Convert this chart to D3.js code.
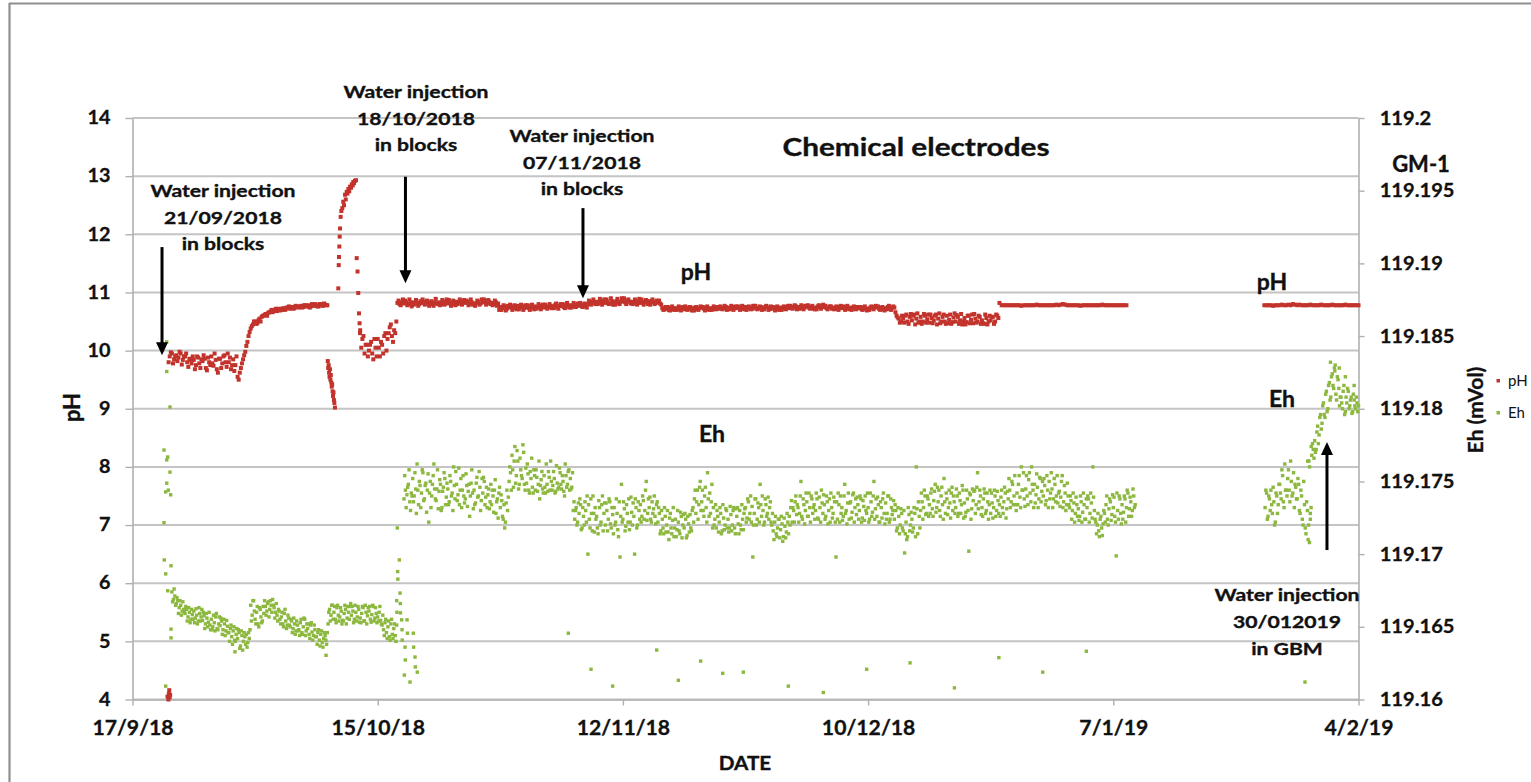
<!DOCTYPE html>
<html><head><meta charset="utf-8">
<script src="https://cdn.jsdelivr.net/npm/d3@7"></script>
<style>
html,body{margin:0;padding:0;background:#fff;}
svg{display:block;}
text{font-family:Lato,"Open Sans",sans-serif;}
</style></head><body>
<svg id="chart" width="1531" height="782"></svg>
<script>
// ---------------- DATA ----------------
const phTicks = [4,5,6,7,8,9,10,11,12,13,14];
const ehTicks = [119.16,119.165,119.17,119.175,119.18,119.185,119.19,119.195,119.2];
const dateTicks = ["2018-09-17","2018-10-15","2018-11-12","2018-12-10","2019-01-07","2019-02-04"];

// pH readings, one every 6 h (main) plus the readings taken 3 h later (mid)
const phStepHours = 6;
const phRun1Start = "2018-09-21T00:00";
const phRun1 = [
4.05,9.9,9.95,9.85, 9.92,9.88,9.95,9.84, 9.9,9.8,9.86,9.78, 9.84,9.75,9.88,9.7,
9.82,9.86,9.66,9.8, 9.9,9.74,9.84,9.62, 9.86,9.78,9.92,9.72, 9.8,9.68,9.85,9.75,
9.55,9.62,9.78,9.92, 10.08,10.25,10.38,10.45, 10.5,10.47,10.55,10.58, 10.6,10.63,10.65,10.67,
10.66,10.7,10.68,10.72, 10.7,10.73,10.71,10.74, 10.72,10.75,10.73,10.76, 10.74,10.77,10.75,10.78,
10.76,10.74,10.8,10.77, 10.78,10.76,10.8,10.77, 10.79,10.78];
const phRun1MidStart = "2018-09-21T03:00";
const phRun1Mid = [
9.8,9.97,9.78,9.9, 9.82,9.98,9.76,9.9, 9.95,9.72,9.84,9.9, 9.68,9.9,9.78,9.85,
9.92,9.7,9.88,9.75, 9.78,9.95,9.68,9.86, 9.7,9.9,9.8,9.95, 9.88,9.75,9.65,9.9,
9.5,9.7,9.85,9.98, 10.15,10.32,10.42,10.5, 10.46,10.52,10.5,10.6, 10.62,10.6,10.66,10.7,
10.68,10.72,10.7,10.69, 10.72,10.7,10.74,10.76, 10.74,10.72,10.77,10.75, 10.76,10.74,10.78,10.76,
10.78,10.76,10.79,10.8, 10.76,10.8,10.78,10.81, 10.78];
const phRun2Start = "2018-10-13T00:00";
const phRun2 = [
10.35,10.2,9.95,10.1, 10.0,10.15,9.85,10.05, 10.2,9.9,10.1,10.25, 10.0,10.3,10.45,10.15,
10.3,10.82,10.8,10.83, 10.81,10.83,10.8,10.82, 10.83,10.81,10.82,10.8, 10.82,10.84,10.81,10.83,
10.8,10.82,10.83,10.81, 10.83,10.8,10.82,10.84, 10.81,10.83,10.8,10.82, 10.84,10.82,10.85,10.83,
10.82,10.84,10.81,10.83, 10.8,10.82,10.84,10.81, 10.83,10.85,10.82,10.84, 10.82,10.8,10.83,10.81,
10.75,10.73,10.76,10.72, 10.74,10.76,10.73,10.75, 10.77,10.74,10.76,10.73, 10.75,10.73,10.76,10.74,
10.76,10.74,10.77,10.75, 10.74,10.76,10.75,10.77, 10.76,10.78,10.75,10.77, 10.77,10.75,10.78,10.76,
10.78,10.76,10.77,10.79, 10.77,10.79,10.76,10.78, 10.8,10.83,10.84,10.82, 10.84,10.82,10.85,10.83,
10.82,10.84,10.81,10.85, 10.83,10.85,10.82,10.84, 10.85,10.83,10.86,10.84, 10.84,10.82,10.85,10.83,
10.82,10.84,10.83,10.85, 10.85,10.83,10.84,10.82, 10.83,10.81,10.73,10.71, 10.72,10.7,10.73,10.71,
10.73,10.71,10.74,10.72, 10.71,10.73,10.72,10.74, 10.72,10.74,10.71,10.73, 10.74,10.72,10.73,10.71,
10.73,10.71,10.74,10.72, 10.72,10.74,10.73,10.75, 10.74,10.72,10.75,10.73, 10.73,10.75,10.72,10.74,
10.75,10.73,10.74,10.72, 10.74,10.72,10.73,10.75, 10.73,10.75,10.74,10.72, 10.72,10.74,10.73,10.71,
10.74,10.72,10.73,10.75, 10.73,10.75,10.74,10.76, 10.75,10.73,10.76,10.74, 10.76,10.74,10.75,10.73,
10.74,10.76,10.75,10.77, 10.75,10.73,10.74,10.76, 10.74,10.72,10.73,10.75, 10.73,10.75,10.74,10.72,
10.74,10.72,10.75,10.73, 10.73,10.71,10.74,10.72, 10.72,10.74,10.73,10.75, 10.74,10.72,10.73,10.71,
10.73,10.75,10.72,10.74, 10.74,10.6,10.55,10.5, 10.55,10.6,10.5,10.58, 10.52,10.62,10.55,10.48,
10.58,10.5,10.6,10.54, 10.48,10.56,10.52,10.62, 10.55,10.47,10.58,10.5, 10.6,10.53,10.46,10.57,
10.5,10.58,10.52,10.45, 10.56,10.49,10.6,10.53, 10.47,10.55,10.5,10.58, 10.52,10.46,10.56,10.5,
10.52,10.58,10.5,10.6, 10.82,10.78,10.78,10.78, 10.78,10.78,10.78,10.78, 10.78,10.78,10.77,10.78,
10.78,10.78,10.78,10.78, 10.78,10.79,10.78,10.78, 10.78,10.78,10.78,10.78, 10.78,10.78,10.79,10.78,
10.79,10.8,10.79,10.78, 10.78,10.78,10.78,10.78, 10.78,10.77,10.78,10.78, 10.78,10.78,10.78,10.78,
10.78,10.78,10.78,10.79, 10.78,10.78,10.78,10.78, 10.78,10.78,10.78,10.78, 10.78,10.78,10.78];
const phRun2MidStart = "2018-10-13T03:00";
const phRun2Mid = [
10.05,10.25,10.1,9.9, 10.1,9.95,10.2,9.9, 10.05,10.15,9.95,10.3, 10.2,10.4,10.25,10.35,
10.5,10.86,10.78,10.88, 10.86,10.78,10.88,10.76, 10.79,10.87,10.77,10.85, 10.88,10.79,10.86,10.77,
10.85,10.77,10.89,10.8, 10.78,10.87,10.79,10.88, 10.87,10.77,10.86,10.78, 10.8,10.88,10.79,10.87,
10.86,10.78,10.88,10.79, 10.77,10.86,10.79,10.88, 10.88,10.79,10.87,10.8, 10.78,10.86,10.77,10.7,
10.7,10.78,10.69,10.77, 10.79,10.7,10.78,10.71, 10.71,10.79,10.7,10.78, 10.78,10.7,10.79,10.71,
10.72,10.8,10.71,10.79, 10.79,10.72,10.8,10.73, 10.73,10.81,10.72,10.8, 10.8,10.73,10.82,10.74,
10.74,10.82,10.75,10.81, 10.82,10.75,10.81,10.74, 10.86,10.79,10.88,10.8, 10.8,10.89,10.79,10.88,
10.88,10.8,10.9,10.79, 10.79,10.89,10.8,10.9, 10.9,10.8,10.88,10.81, 10.8,10.88,10.79,10.89,
10.88,10.79,10.87,10.8, 10.79,10.88,10.8,10.86, 10.86,10.79,10.7,10.75, 10.75,10.69,10.76,10.7,
10.7,10.76,10.69,10.75, 10.76,10.7,10.75,10.69, 10.69,10.75,10.7,10.76, 10.75,10.69,10.76,10.7,
10.7,10.76,10.71,10.75, 10.76,10.71,10.77,10.7, 10.71,10.77,10.7,10.76, 10.76,10.7,10.77,10.71,
10.7,10.76,10.71,10.77, 10.77,10.71,10.76,10.7, 10.71,10.77,10.7,10.76, 10.75,10.69,10.76,10.7,
10.7,10.76,10.71,10.77, 10.77,10.72,10.78,10.71, 10.72,10.78,10.71,10.77, 10.78,10.72,10.77,10.71,
10.71,10.78,10.72,10.79, 10.77,10.71,10.76,10.72, 10.71,10.76,10.7,10.77, 10.76,10.7,10.77,10.71,
10.7,10.76,10.71,10.75, 10.75,10.7,10.76,10.69, 10.7,10.76,10.71,10.77, 10.76,10.7,10.75,10.69,
10.71,10.77,10.7,10.76, 10.66,10.57,10.48,10.6, 10.48,10.62,10.46,10.63, 10.6,10.45,10.64,10.5,
10.46,10.63,10.48,10.62, 10.62,10.47,10.6,10.45, 10.64,10.5,10.62,10.46, 10.47,10.62,10.49,10.64,
10.61,10.46,10.63,10.5, 10.45,10.6,10.47,10.62, 10.63,10.48,10.6,10.46, 10.47,10.62,10.45,10.6,
10.58,10.46,10.62,10.56];
const phRun3Start = "2019-01-24T06:00";
const phRun3 = [
10.78,10.78,10.78, 10.78,10.77,10.78,10.78, 10.78,10.79,10.78,10.78, 10.79,10.78,10.8,10.79,
10.78,10.79,10.78,10.78, 10.78,10.78,10.79,10.78, 10.78,10.78,10.78,10.79, 10.78,10.78,10.78,10.78,
10.79,10.78,10.78,10.78, 10.78,10.78,10.79,10.78, 10.78,10.78,10.78,10.78, 10.78];
// extra pH readings during the fast transients (days after 17/9/2018)
const phBurstDays = [4.1,4.15,4.2,4.25,4.3,
22.3,22.35,22.4,22.45,22.5,22.55,22.6,22.65,22.7,22.75,22.8,22.85,22.9,22.95,23.0,23.05,23.12,
23.5,23.55,23.58,23.62,23.66,23.7,23.77,23.85,23.96,24.07,24.15,24.27,24.35,24.46,24.55,24.65,24.75,24.84,24.95,25.05,25.15,25.21,25.3,25.4,25.52,25.6,25.7,25.78,25.86,25.93,25.98];
const phBurstValues = [4.0,4.1,4.16,4.04,4.08,
9.82,9.7,9.75,9.62,9.55,9.68,9.5,9.58,9.45,9.38,9.42,9.3,9.22,9.28,9.15,9.1,9.02,
11.07,11.47,11.61,11.79,11.96,12.1,12.3,12.4,12.45,12.56,12.5,12.68,12.6,12.73,12.7,12.78,12.74,12.82,12.8,12.86,12.84,12.9,12.88,12.92,12.93,11.59,11.36,10.99,10.64,10.47,10.3];

// Eh readings (plotted on the pH scale), one every 4 h (main) plus readings 2 h later (mid)
const ehStepHours = 4;
const ehRun1Start = "2018-09-21T12:00";
const ehRun1 = [
5.85,5.72,5.78,
5.65,5.7,5.58,5.62,5.52,5.55, 5.48,5.55,5.42,5.5,5.38,5.46, 5.52,5.4,5.45,5.35,5.48,5.42,
5.36,5.44,5.3,5.4,5.33,5.28, 5.38,5.25,5.32,5.42,5.22,5.3, 5.27,5.35,5.2,5.3,5.18,5.26,
5.15,5.22,5.08,5.18,5.02,5.12, 5.05,5.15,4.92,5.1,5.0,5.08, 5.12,4.98,5.05,5.62,5.45,5.7,
5.38,5.5,5.3,5.58,5.42,5.35, 5.48,5.6,5.52,5.68,5.55,5.62, 5.72,5.58,5.5,5.45,5.55,5.38,
5.42,5.3,5.48,5.35,5.28,5.4, 5.25,5.35,5.22,5.3,5.18,5.28, 5.2,5.32,5.15,5.25,5.38,5.18,
5.22,5.12,5.28,5.16,5.1,5.2, 5.08,5.15,5.02,5.12,4.98,5.05, 5.1,4.95,5.3,5.55,5.45,5.62,
5.5,5.38,5.58,5.45,5.42,5.52, 5.36,5.48,5.55,5.4,5.5,5.6, 5.45,5.52,5.38,5.5,5.42,5.55,
5.4,5.48,5.58,5.35,5.5,5.44, 5.52,5.38,5.46,5.6,5.4,5.48, 5.42,5.5,5.36,5.28,5.2,5.32,
5.15,5.25,5.08,5.3,5.12,5.22, 5.1,5.28];
const ehRun1MidStart = "2018-09-21T14:00";
const ehRun1Mid = [
5.68,5.9,5.62,
5.75,5.48,5.7,5.45,5.68,5.5, 5.6,5.35,5.58,5.32,5.55,5.38, 5.32,5.56,5.3,5.58,5.35,5.55,
5.5,5.22,5.48,5.25,5.5,5.2, 5.2,5.45,5.18,5.48,5.2,5.42, 5.4,5.12,5.38,5.1,5.36,5.15,
5.0,5.28,4.95,5.25,5.0,5.22, 5.2,4.88,5.18,4.85,5.15,4.95, 4.9,5.15,5.2,5.35,5.7,5.52,
5.3,5.6,5.25,5.55,5.32,5.6, 5.7,5.45,5.65,5.42,5.7,5.5, 5.62,5.4,5.65,5.35,5.52,5.3,
5.5,5.25,5.55,5.22,5.45,5.28, 5.38,5.15,5.4,5.12,5.35,5.18, 5.1,5.38,5.12,5.4,5.1,5.3,
5.3,5.05,5.32,5.02,5.28,5.08, 4.95,5.2,4.92,5.18,4.9,5.15, 5.02,5.15,5.5,5.35,5.62,5.38,
5.6,5.32,5.62,5.35,5.58,5.3, 5.35,5.62,5.3,5.6,5.38,5.65, 5.6,5.32,5.62,5.35,5.6,5.33,
5.32,5.6,5.35,5.62,5.3,5.58, 5.6,5.33,5.62,5.35,5.58,5.32, 5.35,5.6,5.3,5.45,5.1,5.38,
5.05,5.35,5.02,5.38,5.05,5.3, 5.0];
const ehRun2Start = "2018-10-18T00:00";
const ehRun2 = [
7.45,7.6,7.52,7.7,7.4,7.55, 7.8,7.5,7.62,8.05,7.35,7.68, 7.55,7.9,7.45,7.72,7.6,7.05, 7.75,7.5,7.85,7.62,7.42,7.95,
7.58,7.7,7.3,7.65,7.8,7.48, 7.62,7.4,7.75,7.55,8.0,7.45, 7.7,7.52,7.35,7.8,7.6,7.5, 7.45,7.68,7.58,7.15,7.72,7.55,
7.6,7.38,7.82,7.5,7.65,7.42, 7.55,7.75,7.48,7.3,7.62,7.4, 7.35,7.5,7.6,7.2,7.45,7.55, 7.3,7.42,7.1,6.95,7.38,7.25,
7.75,7.9,8.2,7.65,8.35,7.85, 8.1,7.7,7.95,7.8,8.25,7.6, 7.72,7.88,7.55,7.8,7.65,7.95, 7.6,7.82,7.7,7.45,7.78,7.62,
7.85,7.55,7.7,7.92,7.6,7.75, 7.68,7.8,7.58,7.72,7.65,7.9, 7.62,7.75,7.5,7.85,7.7,7.95, 7.8,7.65,7.25,7.1,7.3,7.05,
7.2,7.35,6.95,7.15,7.4,7.05, 6.5,7.1,7.45,6.9,7.2,7.3, 7.15,6.85,7.3,7.05,7.5,7.2, 7.0,7.25,7.1,7.4,6.95,7.18,
7.3,7.05,7.2,6.8,6.45,7.7, 7.1,7.28,6.98,7.2,7.45,7.05, 7.22,7.38,6.5,7.3,7.0,7.25, 7.35,7.15,7.42,7.25,7.75,7.2,
7.3,7.1,7.4,7.28,7.15,7.35, 7.05,7.2,6.9,7.1,6.85,7.15, 7.0,6.88,7.12,6.95,7.08,6.8, 7.1,6.92,7.05,6.85,7.15,7.0,
6.95,7.1,6.82,7.02,7.18,6.9, 7.3,7.45,7.2,7.6,7.35,7.75, 7.4,7.25,7.5,7.3,7.9,7.15, 7.2,7.7,7.3,7.1,6.95,7.15,
7.05,7.2,6.9,7.12,7.0,7.25, 7.1,6.95,7.18,7.0,7.3,6.85, 7.15,7.02,7.25,6.92,7.1,7.2, 7.3,7.12,7.4,7.2,7.05,6.45,
7.2,7.45,7.1,7.3,7.7,7.15, 7.25,7.05,7.35,7.2,7.1,7.4, 7.0,6.9,7.05,6.85,6.95,7.1, 6.92,7.02,6.8,6.98,6.88,7.05,
7.15,7.3,7.05,7.25,7.4,7.18, 7.3,7.2,7.75,7.1,7.35,7.25, 7.4,7.15,7.3,7.5,7.2,7.35, 7.25,7.45,7.1,7.3,7.6,7.2,
7.35,7.15,7.4,7.25,7.05,7.3, 7.2,7.4,6.45,7.1,7.35,7.5, 7.3,7.15,7.7,7.25,7.38,7.1, 7.4,7.22,7.55,7.3,7.18,7.35,
7.25,7.45,7.12,7.32,7.5,7.2, 7.3,7.1,7.4,7.22,7.75,7.28, 7.15,7.35,7.05,7.3,7.45,7.2, 7.38,7.2,7.5,7.1,7.3,7.25,
7.1,7.25,6.95,7.15,7.0,7.2, 6.9,6.52,7.05,6.8,7.18,7.0, 7.1,6.95,7.2,8.0,6.85,7.15, 7.25,7.4,7.3,7.5,7.2,7.45,
7.35,7.55,7.28,7.42,7.7,7.3, 7.4,7.25,7.5,7.35,7.8,7.2, 7.45,7.3,7.38,7.55,7.25,7.4, 7.3,7.5,7.2,7.42,7.35,7.6,
7.38,7.22,7.45,6.55,7.52,7.28, 7.42,7.6,7.35,7.9,7.4,7.5, 7.3,7.45,7.55,7.25,7.4,7.35, 7.2,7.38,7.3,7.5,7.25,7.42,
7.35,7.48,7.3,7.4,7.55,7.28, 7.45,7.6,7.4,7.7,7.5,7.35, 7.55,7.7,7.48,8.0,7.6,7.45, 7.62,7.5,7.78,7.55,8.0,7.6,
7.7,7.52,7.65,7.45,7.8,7.58, 7.5,7.68,7.42,7.6,7.75,7.55, 7.62,7.45,7.7,7.5,7.38,7.58, 7.48,7.85,7.4,7.55,7.35,7.5,
7.3,7.42,7.25,7.38,7.2,7.35, 7.28,7.15,7.4,7.22,7.35,7.1, 7.3,7.45,7.2,7.38,8.0,7.25, 7.05,7.0,6.9,7.1,6.95,7.02,
7.2,7.35,7.1,7.28,7.4,7.18, 7.3,7.15,6.47,7.25,7.5,7.2, 7.35,7.22,7.45,7.3,7.55,7.28, 7.4,7.25,7.5,7.35];
const ehRun2MidStart = "2018-10-18T02:00";
const ehRun2Mid = [
7.85,7.3,7.65,7.95,7.25,7.5, 7.4,7.9,7.2,7.6,7.75,7.3, 7.95,7.42,7.68,7.22,7.88,7.55, 7.3,7.7,8.05,7.45,7.62,7.28,
7.78,7.25,7.58,7.9,7.35,7.72, 7.35,7.85,7.5,7.25,7.68,7.92, 7.42,7.98,7.6,7.3,7.85,7.38, 7.88,7.32,7.7,7.5,7.95,7.28,
7.35,7.72,7.48,7.92,7.25,7.8, 7.82,7.35,7.65,7.52,7.28,7.7, 7.6,7.22,7.78,7.4,7.12,7.65, 7.52,7.15,7.35,7.05,7.6,7.48,
8.0,7.6,7.95,8.1,7.72,8.28, 7.62,8.15,7.85,8.38,7.7,7.98, 8.05,7.6,7.92,8.15,7.55,7.85, 7.95,7.58,8.1,7.68,7.92,7.55,
7.65,8.05,7.58,7.82,8.1,7.6, 7.92,7.55,8.02,7.62,7.98,7.7, 7.85,7.58,8.05,7.65,7.92,7.6, 7.62,7.9,7.4,7.25,7.0,7.38,
7.45,6.92,7.3,7.0,7.25,7.5, 7.35,6.95,7.2,7.5,6.88,7.1, 6.95,7.42,7.0,7.35,6.9,7.38, 7.38,6.9,7.45,7.02,7.3,6.85,
7.0,7.45,6.92,7.4,7.15,7.05, 7.4,6.9,7.35,7.05,6.92,7.48, 7.0,7.15,7.45,6.95,7.4,7.1, 7.05,7.5,7.1,7.6,7.08,7.45,
7.48,7.05,7.2,7.5,7.02,7.4, 7.3,6.85,7.25,6.95,7.3,6.88, 7.25,6.75,7.2,6.85,7.3,6.95, 6.8,7.25,6.9,7.22,6.78,7.18,
7.2,6.78,7.15,6.88,6.95,7.25, 7.05,7.6,7.4,7.1,7.65,7.25, 7.6,7.15,7.65,7.05,7.45,7.55, 7.4,6.95,7.0,7.35,7.25,6.88,
7.3,6.85,7.35,6.92,7.28,6.95, 6.88,7.32,6.9,7.25,6.95,7.28, 7.3,6.85,7.0,7.35,6.92,7.28, 7.05,7.45,7.1,7.5,7.32,7.0,
7.45,7.0,7.38,7.05,7.35,7.5, 7.0,7.45,7.15,7.48,7.3,7.05, 7.2,6.75,7.15,6.8,7.1,6.78, 7.15,6.72,7.12,6.78,7.2,6.85,
7.0,7.42,7.3,7.05,7.5,7.35, 7.05,7.5,7.15,7.45,7.02,7.55, 7.15,7.55,7.05,7.45,7.3,7.1, 7.55,7.12,7.48,7.05,7.38,7.52,
7.1,7.5,7.02,7.45,7.55,7.12, 7.48,7.05,7.4,7.55,7.05,7.2, 7.08,7.5,7.2,7.02,7.55,7.38, 7.12,7.52,7.05,7.45,7.48,7.1,
7.5,7.05,7.42,7.08,7.25,7.55, 7.05,7.55,7.15,7.5,7.1,7.45, 7.48,7.05,7.4,7.12,7.55,7.02, 7.1,7.5,7.05,7.45,7.18,7.42,
7.35,6.9,7.3,6.85,7.28,6.95, 7.25,6.85,6.75,7.3,6.9,7.22, 6.88,7.3,6.8,7.28,7.4,6.95, 7.55,7.1,7.6,7.18,7.5,7.15,
7.2,7.62,7.15,7.58,7.22,7.65, 7.6,7.15,7.65,7.1,7.4,7.55, 7.18,7.6,7.12,7.65,7.5,7.2, 7.62,7.15,7.55,7.2,7.68,7.12,
7.15,7.6,7.25,7.55,7.1,7.62, 7.58,7.2,7.65,7.28,7.6,7.18, 7.15,7.62,7.2,7.55,7.1,7.6, 7.55,7.12,7.6,7.15,7.58,7.2,
7.15,7.6,7.2,7.65,7.12,7.58, 7.8,7.3,7.75,7.35,7.85,7.25, 7.35,7.85,7.3,7.6,7.9,7.32, 7.85,7.35,7.9,7.4,7.7,7.3,
7.38,7.88,7.3,7.82,7.4,7.75, 7.8,7.35,7.85,7.3,7.45,7.9, 7.3,7.8,7.4,7.85,7.55,7.32, 7.75,7.3,7.68,7.25,7.72,7.35,
7.5,7.1,7.55,7.05,7.48,7.15, 7.08,7.5,7.05,7.55,7.1,7.45, 7.5,7.05,7.55,7.12,7.48,7.1, 6.85,7.2,6.8,7.15,6.82,7.25,
7.05,7.5,7.0,7.45,7.08,7.52, 7.48,7.05,7.55,7.1,7.45,7.02, 7.1,7.5,7.05,7.6,7.15,7.48, 7.15,7.62,7.3];
const ehRun3Start = "2019-01-24T08:00";
const ehRun3 = [
7.3,7.55,7.15,7.45, 7.6,7.2,7.4,7.05,7.5,7.35, 7.7,7.45,7.85,7.3,7.6,7.5, 7.95,7.4,7.75,7.55,7.3,7.65,
7.45,7.7,7.2,7.5,7.0,7.35, 6.85,7.25,8.1,7.1,8.2,8.3, 8.45,8.3,8.7,8.55,8.9,8.75, 9.1,8.85,9.3,9.0,9.45,9.2,
9.6,9.35,9.75,9.15,9.5,9.05, 9.2,9.0,9.4,8.95,9.1,9.3, 9.05,9.2,8.95,9.15,9.0,9.1, 9.05];
const ehRun3MidStart = "2019-01-24T10:00";
const ehRun3Mid = [
7.6,7.1,7.5,7.25, 7.35,7.65,7.0,7.55,7.2,7.7, 7.55,7.95,7.4,8.05,7.6,7.8, 7.6,8.1,7.5,7.9,7.7,7.45,
7.8,7.25,7.6,7.1,7.75,6.95, 7.4,6.75,8.0,7.3,8.4,8.15, 8.25,8.6,8.4,8.85,8.65,9.05, 8.9,9.25,8.95,9.4,9.15,9.55,
9.4,9.7,9.25,9.55,9.35,9.2, 9.1,9.3,8.9,9.2,9.35,9.0, 9.15,8.92,9.25,9.05,9.2,8.95];
// extra / isolated Eh readings (days after 17/9/2018)
const ehBurstDays = [3.6,3.63,3.6,3.79,3.79,3.79,3.91,3.91,3.91,3.91,4.02,4.09,4.02,4.28,4.28,4.36,4.4,4.4,4.4,
30.17,30.2,30.24,30.28,30.3,30.47,30.55,30.58,30.6,30.74,30.78,30.8,31.04,31.12,31.15,31.35,31.4,31.69,32.07,32.1,32.26,32.3,32.52,
11.7,22.1,
49.77,52.36,54.83,59.86,62.33,64.88,67.4,69.75,74.89,78.89,83.84,88.79,93.86,98.93,103.94,108.92,133.89,
134.2,134.3,134.4,134.5,134.6,136.8,137.3,137.8,138.5,139.5];
const ehBurstValues = [8.29,6.4,7.04,7.57,6.16,4.23,7.72,8.12,10.15,9.64,8.17,7.6,5.87,7.91,9.03,7.52,6.3,5.21,5.06,
5.7,5.5,6.95,6.2,6.07,6.4,5.83,5.65,5.49,5.37,5.2,5.02,4.42,4.9,4.68,5.37,5.14,4.3,5.14,4.9,4.73,4.56,4.47,
4.82,4.76,
5.14,4.52,4.23,4.85,4.33,4.66,4.45,4.47,4.23,4.12,4.52,4.63,4.2,4.72,4.47,4.83,4.3,
8.1,7.0,6.7,7.2,8.35,9.8,9.65,9.7,9.55,9.4];

// annotations (arrow anchored at day after 17/9/2018, from / to pH level)
const noteLines = [["Water injection","21/09/2018","in blocks"],["Water injection","18/10/2018","in blocks"],
                   ["Water injection","07/11/2018","in blocks"],["Water injection","30/012019","in GBM"]];
const arrowDays = [3.37, 31.17, 51.44, 136.4];
const arrowFromPh = [11.78, 12.99, 12.45, 6.57];
const arrowToPh = [9.92, 11.16, 10.9, 8.43];

// ---------------- CHART ----------------
const W = 1531, H = 782;
const plot = {left:132.5, right:1358.5, top:118, bottom:699.5};
const svg = d3.select("#chart");
const parseDay = d3.utcParse("%Y-%m-%d");
const parseStamp = d3.utcParse("%Y-%m-%dT%H:%M");
const origin = parseDay(dateTicks[0]);
const tickDates = dateTicks.map(parseDay);

const x = d3.scaleUtc().domain([tickDates[0], tickDates[tickDates.length-1]]).range([plot.left, plot.right]);
const y = d3.scaleLinear().domain([phTicks[0], phTicks[phTicks.length-1]]).range([plot.bottom, plot.top]);
const yR = d3.scaleLinear().domain([ehTicks[0], ehTicks[ehTicks.length-1]]).range([plot.bottom, plot.top]);

function fromRun(start, stepH, vals){
  const s = parseStamp(start).getTime();
  return vals.map((v,i)=>({date:new Date(s + i*stepH*3600e3), value:v})).filter(d=>d.value!=null);
}
function fromDays(days, vals){
  return d3.zip(days, vals).map(([d,v])=>({date:new Date(origin.getTime()+d*864e5), value:v}));
}
const phData = [].concat(
  fromRun(phRun1Start,phStepHours,phRun1), fromRun(phRun1MidStart,phStepHours,phRun1Mid),
  fromDays(phBurstDays,phBurstValues),
  fromRun(phRun2Start,phStepHours,phRun2), fromRun(phRun2MidStart,phStepHours,phRun2Mid),
  fromRun(phRun3Start,phStepHours,phRun3));
const ehData = [].concat(
  fromRun(ehRun1Start,ehStepHours,ehRun1), fromRun(ehRun1MidStart,ehStepHours,ehRun1Mid),
  fromRun(ehRun2Start,ehStepHours,ehRun2), fromRun(ehRun2MidStart,ehStepHours,ehRun2Mid),
  fromRun(ehRun3Start,ehStepHours,ehRun3), fromRun(ehRun3MidStart,ehStepHours,ehRun3Mid),
  fromDays(ehBurstDays,ehBurstValues));
const dayDate = d => new Date(origin.getTime()+d*864e5);

const RED = "#c2332c", GREEN = "#8cb83f", GRID = "#c4c4c4", AXIS = "#b0b0b0", INK = "#111";

// outer frame (top and left edges visible)
svg.append("line").attr("x1",9).attr("x2",W).attr("y1",3.5).attr("y2",3.5).attr("stroke","#8f8f8f").attr("stroke-width",2.2);
svg.append("line").attr("x1",9.5).attr("x2",9.5).attr("y1",3).attr("y2",H).attr("stroke","#8f8f8f").attr("stroke-width",2.2);

// gridlines
svg.append("g").selectAll("line").data(phTicks).join("line")
  .attr("x1",plot.left).attr("x2",plot.right)
  .attr("y1",d=>y(d)).attr("y2",d=>y(d))
  .attr("stroke",GRID).attr("stroke-width",2);

// axes
function styleAxis(g, size, sx){
  g.select(".domain").attr("stroke",AXIS).attr("stroke-width",1.6);
  g.selectAll(".tick line").attr("stroke",AXIS).attr("stroke-width",1.4);
  g.selectAll(".tick text").attr("fill",INK).attr("font-size",size).attr("font-weight",700)
    .attr("font-family","Lato, 'Open Sans', sans-serif")
    .attr("stroke",INK).attr("stroke-width",0.3)
    .attr("transform",`scale(${sx},1)`);
}
const gL = svg.append("g").attr("transform",`translate(${plot.left},0)`)
  .call(d3.axisLeft(y).tickValues(phTicks).tickFormat(d3.format("d")).tickSize(7).tickSizeOuter(0).tickPadding(13));
styleAxis(gL, 18, 1.1);
const gR = svg.append("g").attr("transform",`translate(${plot.right},0)`)
  .call(d3.axisRight(yR).tickValues(ehTicks).tickFormat(d3.format(".3~f")).tickSize(6).tickSizeOuter(0).tickPadding(14));
styleAxis(gR, 19, 1.06);
const gB = svg.append("g").attr("transform",`translate(0,${plot.bottom})`)
  .call(d3.axisBottom(x).tickValues(tickDates).tickFormat(d3.utcFormat("%-d/%-m/%y")).tickSize(6).tickSizeOuter(0).tickPadding(15));
styleAxis(gB, 20, 1.06);

// series
const PS = 4.0, ES = 3.4;
svg.append("g").selectAll("rect").data(phData).join("rect")
  .attr("x",d=>x(d.date)-PS/2).attr("y",d=>y(d.value)-PS/2)
  .attr("width",PS).attr("height",PS).attr("fill",RED);
svg.append("g").selectAll("rect").data(ehData).join("rect")
  .attr("x",d=>x(d.date)-ES/2).attr("y",d=>y(d.value)-ES/2)
  .attr("width",ES).attr("height",ES).attr("fill",GREEN);

// text helper (the original text is slightly stretched horizontally)
function label(txt, px, py, size, o={}){
  const sx = o.sx || 1, rot = o.rotate ? " rotate(-90)" : "";
  return svg.append("text").attr("transform",`translate(${px},${py})${rot} scale(${sx},1)`)
    .attr("text-anchor",o.anchor||"middle").attr("font-size",size).attr("font-weight",o.weight||700)
    .attr("fill",INK).attr("stroke",o.weight===400?null:INK).attr("stroke-width",0.35).text(txt);
}

// arrows
const arrows = svg.append("g");
arrowDays.forEach((d,i)=>{
  const ax = x(dayDate(d)), y0 = y(arrowFromPh[i]), y1 = y(arrowToPh[i]);
  const dir = y1 > y0 ? 1 : -1;
  arrows.append("line").attr("x1",ax).attr("x2",ax).attr("y1",y0).attr("y2",y1 - dir*10)
    .attr("stroke","#000").attr("stroke-width",3);
  arrows.append("path").attr("d",`M${ax-6},${y1-dir*13}L${ax+6},${y1-dir*13}L${ax},${y1}Z`).attr("fill","#000");
});

// annotation texts
const notePos = [[223,197,26.5],[416,98,26.5],[582,142,26.5],[1287,601,27]];
noteLines.forEach((lines,i)=>{
  const [cx,by,lh] = notePos[i];
  lines.forEach((t,j)=>label(t,cx,by+j*lh,17.5,{sx:1.21}));
});

label("Chemical electrodes",916,156,25,{sx:1.19});
label("pH",696,280,23);
label("pH",1272,290,23);
label("Eh",712,442,23);
label("Eh",1282,407,23);
label("GM-1",1421,172,22);
label("DATE",745,770,19,{sx:1.09});
label("pH",80,407.5,22,{rotate:true});
label("Eh (mVol)",1483,410,21,{rotate:true});

// legend
const legendNames = ["pH","Eh"];
const legendColors = [RED, GREEN];
legendNames.forEach((n,i)=>{
  const ly = 381 + i*32;
  svg.append("rect").attr("x",1496.5).attr("y",ly-2).attr("width",3.5).attr("height",3.5).attr("fill",legendColors[i]);
  label(n,1508,ly+5,15,{anchor:"start",weight:400});
});
</script>
</body></html>
